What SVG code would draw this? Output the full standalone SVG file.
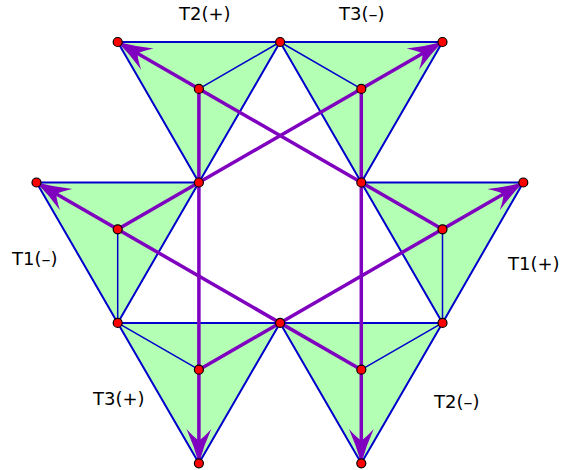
<svg xmlns="http://www.w3.org/2000/svg" width="562" height="470" viewBox="0 0 562 470">
<style>
.tri{fill:#b3ffb3;stroke:#0000cc;stroke-width:2;stroke-linejoin:round}
.med{stroke:#0000cc;stroke-width:1.5;fill:none}
.arr{stroke:#7f00bf;stroke-width:3.5;fill:none;marker-end:url(#ah)}
.pt{fill:#ff0000;stroke:#000;stroke-width:1.2}
.lbl{font-family:"DejaVu Sans",sans-serif;font-size:18px;fill:#000}
</style>
<defs>
<marker id="ah" markerUnits="userSpaceOnUse" orient="auto" refX="0" refY="0" markerWidth="40" markerHeight="30" viewBox="-40 -15 42 30" overflow="visible">
<path d="M0,0 Q-18,-5 -36,-13 Q-27,-5 -24,0 Q-27,5 -36,13 Q-18,5 0,0Z" fill="#7f00bf"/>
</marker>
</defs>
<rect width="562" height="470" fill="#fff"/>
<g id="T2p">
<polygon class="tri" points="117.7,42 280.1,42 198.9,182.5"/>
<path class="med" d="M198.9,88.9L117.7,42M198.9,88.9L280.1,42M198.9,88.9L198.9,182.5"/>
</g>
<g id="T3m">
<polygon class="tri" points="280.1,42 442.5,42 361.3,182.5"/>
<path class="med" d="M361.3,88.9L280.1,42M361.3,88.9L442.5,42M361.3,88.9L361.3,182.5"/>
</g>
<g id="T1m">
<polygon class="tri" points="36.5,182.5 198.9,182.5 117.7,322.9"/>
<path class="med" d="M117.7,229.3L36.5,182.5M117.7,229.3L198.9,182.5M117.7,229.3L117.7,322.9"/>
</g>
<g id="T1p">
<polygon class="tri" points="361.3,182.5 523.3,182.5 442.5,322.9"/>
<path class="med" d="M442.5,229.3L361.3,182.5M442.5,229.3L523.3,182.5M442.5,229.3L442.5,322.9"/>
</g>
<g id="T3p">
<polygon class="tri" points="117.7,322.9 280.1,322.9 198.9,463.3"/>
<path class="med" d="M198.9,369.7L117.7,322.9M198.9,369.7L280.1,322.9M198.9,369.7L198.9,463.3"/>
</g>
<g id="T2m">
<polygon class="tri" points="280.1,322.9 442.5,322.9 361.3,463.3"/>
<path class="med" d="M361.3,369.7L280.1,322.9M361.3,369.7L442.5,322.9M361.3,369.7L361.3,463.3"/>
</g>
<g id="connectors">
<line class="arr" x1="198.9" y1="88.9" x2="198.9" y2="463.3"/>
<line class="arr" x1="361.3" y1="88.9" x2="361.3" y2="463.3"/>
<line class="arr" x1="442.5" y1="229.3" x2="117.7" y2="42"/>
<line class="arr" x1="117.7" y1="229.3" x2="442.5" y2="42"/>
<line class="arr" x1="361.3" y1="369.7" x2="36.5" y2="182.5"/>
<line class="arr" x1="198.9" y1="369.7" x2="523.3" y2="182.5"/>
</g>
<g id="points">
<circle class="pt" cx="117.7" cy="42" r="4.5"/>
<circle class="pt" cx="280.1" cy="42" r="4.5"/>
<circle class="pt" cx="442.5" cy="42" r="4.5"/>
<circle class="pt" cx="198.9" cy="88.9" r="4.5"/>
<circle class="pt" cx="361.3" cy="88.9" r="4.5"/>
<circle class="pt" cx="36.5" cy="182.5" r="4.5"/>
<circle class="pt" cx="198.9" cy="182.5" r="4.5"/>
<circle class="pt" cx="361.3" cy="182.5" r="4.5"/>
<circle class="pt" cx="523.3" cy="182.5" r="4.5"/>
<circle class="pt" cx="117.7" cy="229.3" r="4.5"/>
<circle class="pt" cx="442.5" cy="229.3" r="4.5"/>
<circle class="pt" cx="117.7" cy="322.9" r="4.5"/>
<circle class="pt" cx="280.1" cy="322.9" r="4.5"/>
<circle class="pt" cx="442.5" cy="322.9" r="4.5"/>
<circle class="pt" cx="198.9" cy="369.7" r="4.5"/>
<circle class="pt" cx="361.3" cy="369.7" r="4.5"/>
<circle class="pt" cx="198.9" cy="463.3" r="4.5"/>
<circle class="pt" cx="361.3" cy="463.3" r="4.5"/>
</g>
<g id="labels">
<text class="lbl" x="179" y="20">T2(+)</text>
<text class="lbl" x="339" y="20">T3(–)</text>
<text class="lbl" x="12" y="265">T1(–)</text>
<text class="lbl" x="508" y="270">T1(+)</text>
<text class="lbl" x="93" y="405">T3(+)</text>
<text class="lbl" x="434" y="408">T2(–)</text>
</g>
</svg>
